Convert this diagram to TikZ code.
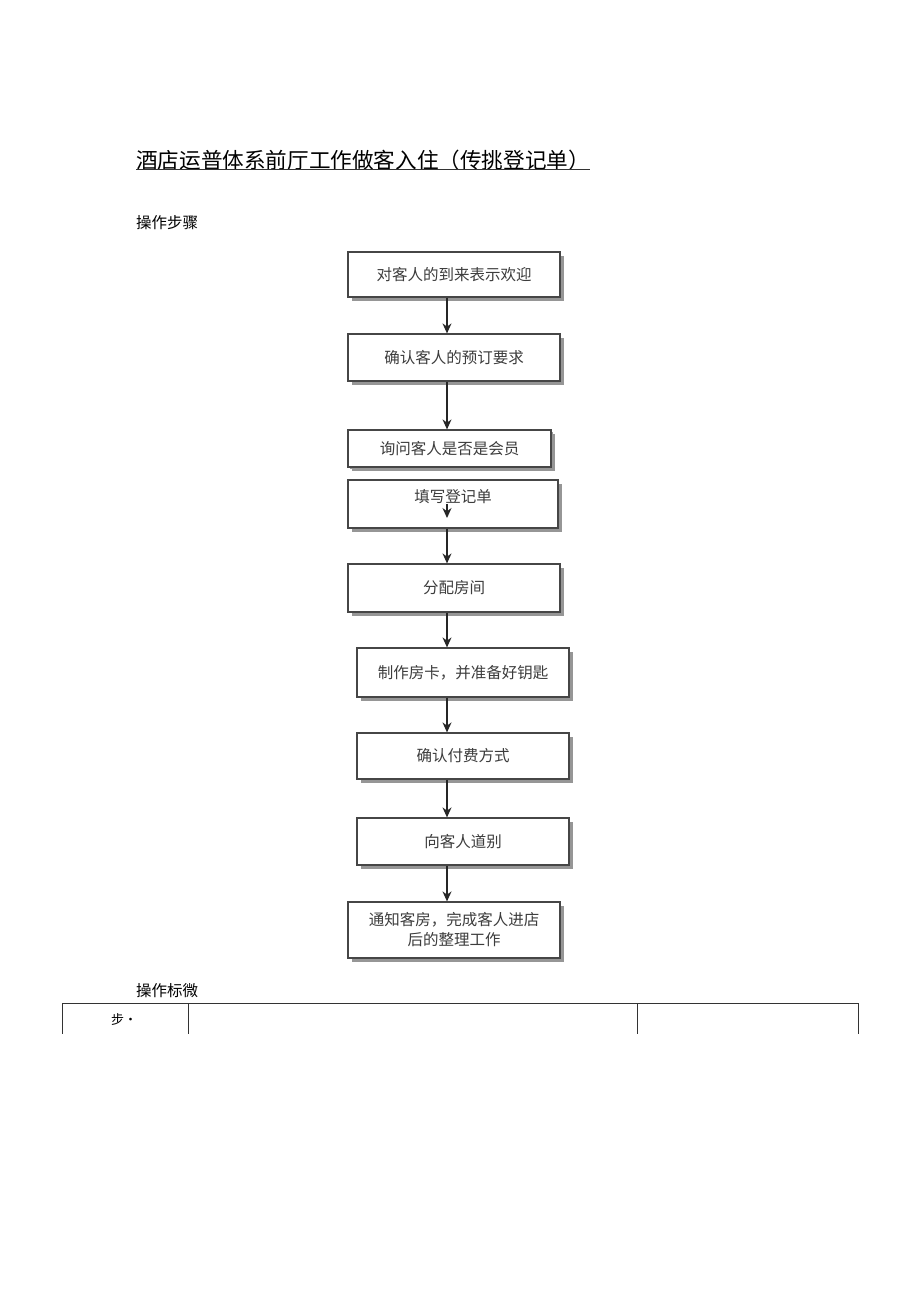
\documentclass[tikz,border=0pt]{standalone}
\usepackage{fontspec}
\setmainfont{Noto Sans CJK SC}
\usetikzlibrary{arrows.meta,positioning,shadows}
\definecolor{frame}{RGB}{70,70,70}
\definecolor{txt}{RGB}{60,60,60}
\definecolor{shade}{RGB}{150,150,150}
\tikzset{
  >={Stealth[length=10pt,width=9pt]},
  stepbox/.style={draw=frame,fill=white,line width=1.2pt,inner sep=0pt,
    minimum width=212pt,minimum height=#1,align=center,text=txt,
    font=\fontsize{15.5}{20}\selectfont,
    drop shadow={shadow xshift=3.5pt,shadow yshift=-3.5pt,fill=shade,opacity=1}},
  stepbox/.default=47pt,
  flow/.style={->,line width=1.4pt,draw=black!85},
  head/.style={anchor=west,inner sep=0pt,font=\fontsize{15.5}{18}\selectfont},
}
\begin{document}
\begin{tikzpicture}[x=1pt,y=-1pt]
  \useasboundingbox (0,0) rectangle (920,1301);
  % title and headings
  \node[anchor=west,inner sep=0pt,font=\fontsize{21.6}{24}\selectfont] (title) at (136,160) {酒店运普体系前厅工作做客入住（传挑登记单）};
  \draw[line width=1pt,black!80] (title.south west) ++(0,-1) coordinate (ul) -- (ul -| title.east);
  \node[head] (steps) at (136,223) {操作步骤};
  % flow
  \node[stepbox=45pt] (b1) at (454,274.5) {对客人的到来表示欢迎};
  \node[stepbox=47pt] (b2) at (454,357.5) {确认客人的预订要求};
  \node[stepbox=37pt,minimum width=203pt,drop shadow={shadow xshift=1.5pt,shadow yshift=-1.5pt,fill=shade,opacity=1}] (b3) at (449.5,448.5) {询问客人是否是会员};
  \node[stepbox=48pt,minimum width=210pt,text height=11pt,text depth=15pt] (b4) at (453,504) {填写登记单};
  \node[stepbox=48pt] (b5) at (454,588) {分配房间};
  \node[stepbox=49pt] (b6) at (463,672.5) {制作房卡，并准备好钥匙};
  \node[stepbox=46pt] (b7) at (463,756) {确认付费方式};
  \node[stepbox=47pt] (b8) at (463,841.5) {向客人道别};
  \node[stepbox=56pt] (b9) at (454,930) {通知客房，完成客人进店\\后的整理工作};
  \coordinate (ax) at (447,0);
  \foreach \a/\b in {b1/b2,b2/b3,b4/b5,b5/b6,b6/b7,b7/b8,b8/b9}
    \draw[flow] (\a.south -| ax) -- (\b.north -| ax);
  \draw[flow] (b4.center -| ax) -- ++(0,14);
  % table head
  \node[head] (marks) at (136,991) {操作标微};
  \coordinate (t1) at (62,1003);
  \coordinate (t2) at (188,1003);
  \coordinate (t3) at (637,1003);
  \coordinate (t4) at (858,1003);
  \draw[line width=0.8pt,black!80] (t1) -- (t4);
  \foreach \t in {t1,t2,t3,t4}
    \draw[line width=0.8pt,black!80] (\t) -- ++(0,31);
  \node[font=\fontsize{13}{15}\selectfont] (col) at (124,1020) {步·};
\end{tikzpicture}
\end{document}
